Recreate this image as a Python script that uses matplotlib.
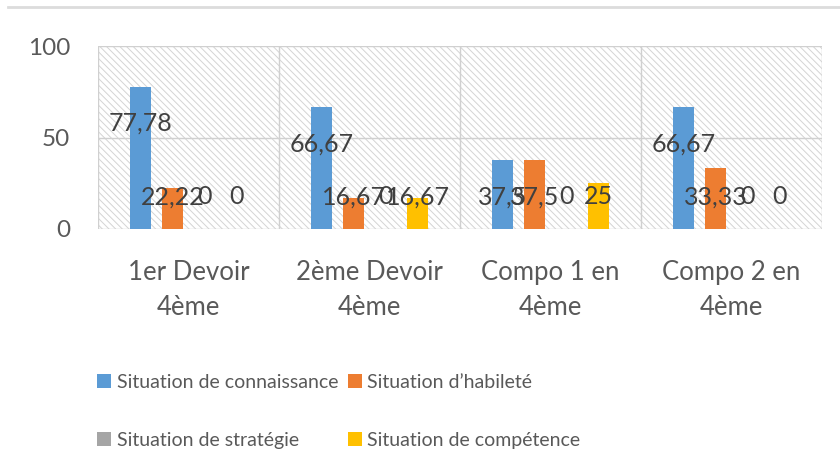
import matplotlib
matplotlib.use("Agg")
import matplotlib.pyplot as plt
import numpy as np
from matplotlib.lines import Line2D
from matplotlib.patches import Rectangle

# Data
categories = ["1er Devoir\n4ème", "2ème Devoir\n4ème", "Compo 1 en\n4ème", "Compo 2 en\n4ème"]
connaissance = [77.78, 66.67, 37.5, 66.67]
habilete = [22.22, 16.67, 37.5, 33.33]
strategie = [0, 0, 0, 0]
competence = [0, 16.67, 25, 0]

series_names = ["Situation de connaissance", "Situation d\u2019habileté",
                "Situation de stratégie", "Situation de compétence"]
colors = ["#5b9bd5", "#ed7d31", "#a5a5a5", "#ffc000"]

plt.rcParams['font.family'] = ['Lato', 'DejaVu Sans']
plt.rcParams['hatch.color'] = '#d4d4d4'
plt.rcParams['hatch.linewidth'] = 0.7

fig = plt.figure(figsize=(8.4, 4.75), dpi=100)
ax = fig.add_axes([0.1167, 0.518, 0.862, 0.385])

x = np.arange(len(categories))
step = 0.177
width = 0.116
all_series = [connaissance, habilete, strategie, competence]

# hatched plot area background
ax.add_patch(Rectangle((0, 0), 1, 1, transform=ax.transAxes, facecolor='white',
                       hatch='\\\\\\\\\\', edgecolor='#d4d4d4', linewidth=0, zorder=0))

for i, vals in enumerate(all_series):
    pos = x + (i - 1.5) * step
    ax.bar(pos, vals, width, color=colors[i], label=series_names[i], zorder=3)
    for p, v in zip(pos, vals):
        lab = f"{v:g}".replace('.', ',')
        ax.text(p, max(v - 20, 17.5), lab, ha='center', va='center',
                fontsize=18, color='#404040', zorder=4)

ax.set_xlim(-0.5, 3.5)
ax.set_ylim(0, 100)
ax.set_yticks([0, 50, 100])
ax.set_xticks(x)
ax.set_xticklabels(categories, linespacing=1.5, fontsize=18.5)
ax.tick_params(axis='both', length=0, colors='#595959')
ax.tick_params(axis='y', pad=20, labelsize=17.5)
ax.tick_params(axis='x', pad=22)

for yv in [0, 50, 100]:
    ax.axhline(yv, color='#d0d0d0', lw=1, zorder=1)
for xv in [-0.5, 0.5, 1.5, 2.5, 3.5]:
    ax.axvline(xv, color='#d0d0d0', lw=1, zorder=1)
for s in ax.spines.values():
    s.set_visible(False)

# top border line
fig.add_artist(Line2D([0.01, 1.0], [0.985, 0.985], color='#dcdcdc', lw=2))

h, l = ax.get_legend_handles_labels()
order = [0, 2, 1, 3]
fig.legend([h[k] for k in order], [l[k] for k in order], ncol=2,
           loc='upper left', bbox_to_anchor=(0.095, 0.25), frameon=False,
           fontsize=14, labelcolor='#595959', handlelength=0.7, handleheight=0.7,
           handletextpad=0.3, columnspacing=0.5, labelspacing=2.1)

fig.savefig("out.png", dpi=100)
